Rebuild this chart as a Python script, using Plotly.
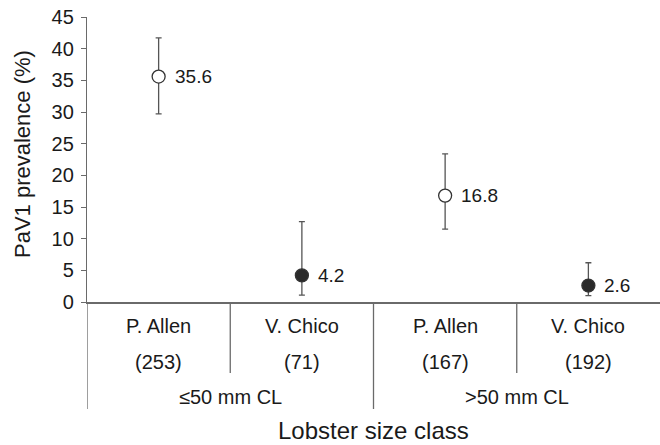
import plotly.graph_objects as go

# ---- data ----
sites = ["P. Allen", "V. Chico", "P. Allen", "V. Chico"]
sample_sizes = ["(253)", "(71)", "(167)", "(192)"]
size_classes = ["≤50 mm CL", ">50 mm CL"]
prevalence = [35.6, 4.2, 16.8, 2.6]
ci_upper = [41.7, 12.7, 23.4, 6.2]
ci_lower = [29.7, 1.1, 11.5, 1.0]
marker_fill = ["white", "#2a2a2a", "white", "#2a2a2a"]
y_ticks = [0, 5, 10, 15, 20, 25, 30, 35, 40, 45]

FONT = "Liberation Sans, Arial, Helvetica, sans-serif"
AX = "#6a6a6a"
TXT = "#1a1a1a"

W, H = 660, 445
ML, MR, MT, MB = 87, 0, 17, 143
plot_h = H - MT - MB
plot_w = W - ML - MR

def py(pix):
    """page pixel y (from top) -> paper coordinate"""
    return (H - MB - pix) / plot_h

def px(pix):
    return (pix - ML) / plot_w

xs = [i + 0.5 for i in range(len(prevalence))]

fig = go.Figure()
fig.add_trace(go.Scatter(
    x=xs, y=prevalence, mode="markers",
    marker=dict(size=13, color=marker_fill, line=dict(color="#333333", width=1.3)),
    error_y=dict(type="data", symmetric=False,
                 array=[u - v for u, v in zip(ci_upper, prevalence)],
                 arrayminus=[v - l for v, l in zip(prevalence, ci_lower)],
                 color="#555555", thickness=1.3, width=3),
    showlegend=False, cliponaxis=False, hoverinfo="skip",
))

LBL = dict(size=20, color=TXT, family=FONT)
annotations = []
for x, v in zip(xs, prevalence):
    annotations.append(dict(x=x, y=v, xref="x", yref="y", text=f"{v:.1f}",
                            showarrow=False, xanchor="left", yanchor="middle", xshift=14,
                            font=dict(size=19, color=TXT, family=FONT)))
for x, s, n in zip(xs, sites, sample_sizes):
    annotations.append(dict(x=x, y=py(326), xref="x", yref="paper", text=s,
                            showarrow=False, xanchor="center", yanchor="middle", font=LBL))
    annotations.append(dict(x=x, y=py(362), xref="x", yref="paper", text=n,
                            showarrow=False, xanchor="center", yanchor="middle", font=LBL))
for i, c in enumerate(size_classes):
    annotations.append(dict(x=2 * i + 1, y=py(397), xref="x", yref="paper", text=c,
                            showarrow=False, xanchor="center", yanchor="middle", font=LBL))
annotations.append(dict(x=2, y=py(430), xref="x", yref="paper", text="Lobster size class",
                        showarrow=False, xanchor="center", yanchor="middle",
                        font=dict(size=24, color=TXT, family=FONT)))
annotations.append(dict(x=px(22), y=py(154), xref="paper", yref="paper",
                        text="PaV1 prevalence (%)", textangle=-90, showarrow=False,
                        xanchor="center", yanchor="middle",
                        font=dict(size=22, color=TXT, family=FONT)))

shapes = []
n = len(prevalence)
for b in range(n):
    bottom = py(409) if b % 2 == 0 else py(373)
    shapes.append(dict(type="line", xref="x", yref="paper", x0=b, x1=b, y0=0, y1=bottom,
                       line=dict(color=AX, width=1.3)))

fig.update_layout(
    width=W, height=H,
    margin=dict(l=ML, r=MR, t=MT, b=MB, autoexpand=False),
    paper_bgcolor="white", plot_bgcolor="white",
    font=dict(family=FONT, color=TXT),
    xaxis=dict(range=[0, n], showgrid=False, zeroline=False, showticklabels=False,
               showline=True, linecolor=AX, linewidth=1.5, ticks="", automargin=False),
    yaxis=dict(range=[0, 45], tickvals=y_ticks, showgrid=False, zeroline=False,
               showline=True, linecolor=AX, linewidth=1.3, ticks="outside",
               ticklen=5, tickcolor=AX, tickwidth=1.3, automargin=False,
               ticklabeloverflow="allow",
               tickfont=dict(size=20, color=TXT, family=FONT), ticklabelstandoff=3),
    annotations=annotations, shapes=shapes,
)

fig.write_html("out.html", config={"displayModeBar": False},
               post_script="document.body.style.margin='0';")
